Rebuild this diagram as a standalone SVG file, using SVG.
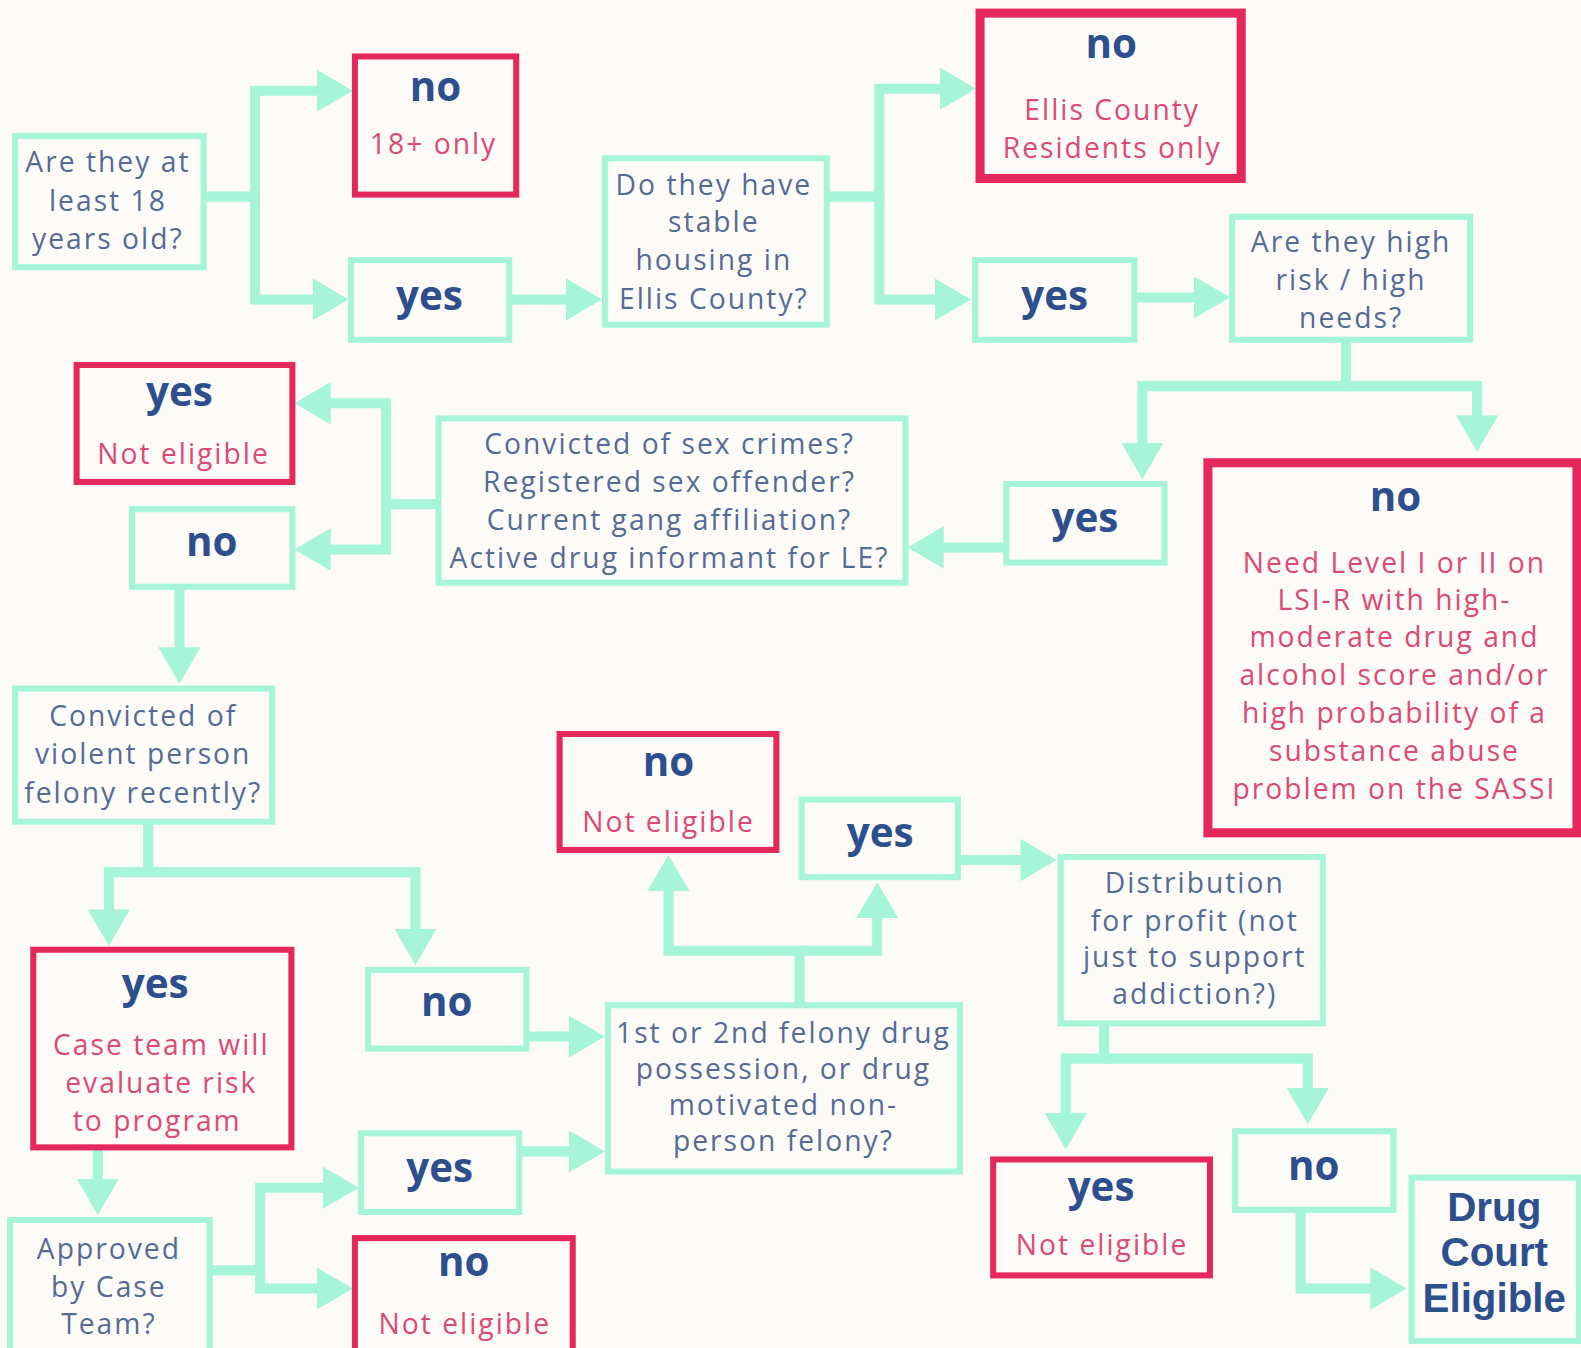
<svg xmlns="http://www.w3.org/2000/svg" width="1581" height="1348" viewBox="0 0 1581 1348">
<defs>
<style>
.bg{fill:#fdfbf8}
.m{fill:none;stroke:#a6f4da;stroke-width:6}
.r{fill:none;stroke:#e5285c;stroke-width:6}
.rt{fill:none;stroke:#e5285c;stroke-width:9}
.c{fill:none;stroke:#a6f4da;stroke-width:10;stroke-linejoin:miter}
.q{font-family:"Open Sans","Liberation Sans",sans-serif;font-size:28px;fill:#566b93;letter-spacing:2px;text-anchor:middle}
.rd{font-family:"Open Sans","Liberation Sans",sans-serif;font-size:28px;fill:#dc4a74;letter-spacing:2px;text-anchor:middle}
.b{font-family:"Open Sans","Liberation Sans",sans-serif;font-size:40px;font-weight:700;fill:#2e4f8e;text-anchor:middle}
.big{font-family:"Liberation Sans",Arial,sans-serif;font-size:40px;font-weight:700;fill:#2e4f8e;text-anchor:middle}
</style>
<marker id="ah" markerUnits="userSpaceOnUse" viewBox="0 0 36 42" markerWidth="36" markerHeight="42" refX="16" refY="21" orient="auto">
<path d="M0,0 L36,21 L0,42 Z" fill="#a6f4da"/>
</marker>
</defs>
<rect class="bg" x="0" y="0" width="1581" height="1348"/>
<g transform="scale(1.00829 1.00823)">
<g id="connectors">
<path class="c" marker-end="url(#ah)" d="M202,195 H253 V90 H330"/>
<path class="c" marker-end="url(#ah)" d="M253,195 V297 H326"/>
<path class="c" marker-end="url(#ah)" d="M505,297 H577"/>
<path class="c" marker-end="url(#ah)" d="M820,195 H872 V88 H948"/>
<path class="c" marker-end="url(#ah)" d="M872,195 V297 H943"/>
<path class="c" marker-end="url(#ah)" d="M1125,295 H1200"/>
<path class="c" marker-end="url(#ah)" d="M1335,337 V383 H1133 V455"/>
<path class="c" marker-end="url(#ah)" d="M1335,383 H1465 V428"/>
<path class="c" marker-end="url(#ah)" d="M998,543 H920"/>
<path class="c" marker-end="url(#ah)" d="M435,500 H383 V400 H312"/>
<path class="c" marker-end="url(#ah)" d="M383,500 V545 H312"/>
<path class="c" marker-end="url(#ah)" d="M178,582 V658"/>
<path class="c" marker-end="url(#ah)" d="M147,815 V865 H108 V918"/>
<path class="c" marker-end="url(#ah)" d="M147,865 H412 V937"/>
<path class="c" marker-end="url(#ah)" d="M522,1028 H580"/>
<path class="c" marker-end="url(#ah)" d="M97,1138 V1185"/>
<path class="c" marker-end="url(#ah)" d="M208,1260 H258 V1178 H336"/>
<path class="c" marker-end="url(#ah)" d="M258,1260 V1278 H330"/>
<path class="c" marker-end="url(#ah)" d="M515,1142 H580"/>
<path class="c" marker-end="url(#ah)" d="M793,997 V943 H663 V868"/>
<path class="c" marker-end="url(#ah)" d="M793,943 H870 V895"/>
<path class="c" marker-end="url(#ah)" d="M950,853 H1028"/>
<path class="c" marker-end="url(#ah)" d="M1095,1015 V1050 H1057 V1120"/>
<path class="c" marker-end="url(#ah)" d="M1095,1050 H1297 V1095"/>
<path class="c" marker-end="url(#ah)" d="M1290,1200 V1278 H1375"/>
</g>
<g id="age"><rect class="m" x="15" y="135" width="187" height="130"/>
<text class="q" x="107" y="171">Are they at</text><text class="q" x="107" y="209">least 18</text><text class="q" x="107" y="247">years old?</text></g>
<g id="no18"><rect class="r" x="352" y="56" width="160" height="137"/>
<text class="b" x="432" y="100">no</text><text class="rd" x="430" y="153">18+ only</text></g>
<g id="yes1"><rect class="m" x="348" y="258" width="157" height="79"/>
<text class="b" x="426" y="307">yes</text></g>
<g id="housing"><rect class="m" x="600" y="157" width="220" height="165"/>
<text class="q" x="708" y="193">Do they have</text><text class="q" x="708" y="230">stable</text><text class="q" x="708" y="268">housing in</text><text class="q" x="708" y="306">Ellis County?</text></g>
<g id="noEllis"><rect class="rt" x="972" y="13" width="259" height="164"/>
<text class="b" x="1102" y="58">no</text><text class="rd" x="1103" y="119">Ellis County</text><text class="rd" x="1103" y="157">Residents only</text></g>
<g id="yes2"><rect class="m" x="967" y="258" width="158" height="79"/>
<text class="b" x="1046" y="307">yes</text></g>
<g id="highrisk"><rect class="m" x="1222" y="215" width="236" height="122"/>
<text class="q" x="1340" y="250">Are they high</text><text class="q" x="1340" y="288">risk / high</text><text class="q" x="1340" y="325">needs?</text></g>
<g id="yes3"><rect class="m" x="998" y="480" width="157" height="78"/>
<text class="b" x="1076" y="528">yes</text></g>
<g id="noLSI"><rect class="rt" x="1198" y="459" width="366" height="367"/>
<text class="b" x="1384" y="507">no</text>
<text class="rd" x="1383" y="568">Need Level I or II on</text><text class="rd" x="1383" y="605">LSI-R with high-</text><text class="rd" x="1383" y="642">moderate drug and</text><text class="rd" x="1383" y="679">alcohol score and/or</text><text class="rd" x="1383" y="717">high probability of a</text><text class="rd" x="1383" y="755">substance abuse</text><text class="rd" x="1383" y="792">problem on the SASSI</text></g>
<g id="sexcrimes"><rect class="m" x="435" y="415" width="463" height="163"/>
<text class="q" x="664" y="450">Convicted of sex crimes?</text><text class="q" x="664" y="488">Registered sex offender?</text><text class="q" x="664" y="526">Current gang affiliation?</text><text class="q" x="664" y="563">Active drug informant for LE?</text></g>
<g id="yesNE1"><rect class="r" x="76" y="362" width="214" height="116"/>
<text class="b" x="178" y="403">yes</text><text class="rd" x="182" y="460">Not eligible</text></g>
<g id="no2"><rect class="m" x="131" y="505" width="159" height="77"/>
<text class="b" x="210" y="551">no</text></g>
<g id="violent"><rect class="m" x="15" y="683" width="255" height="132"/>
<text class="q" x="142" y="720">Convicted of</text><text class="q" x="142" y="758">violent person</text><text class="q" x="142" y="796">felony recently?</text></g>
<g id="yesCase"><rect class="r" x="33" y="942" width="256" height="196"/>
<text class="b" x="154" y="990">yes</text><text class="rd" x="160" y="1046">Case team will</text><text class="rd" x="160" y="1084">evaluate risk</text><text class="rd" x="156" y="1122">to program</text></g>
<g id="no3"><rect class="m" x="365" y="962" width="157" height="78"/>
<text class="b" x="443" y="1008">no</text></g>
<g id="approved"><rect class="m" x="10" y="1210" width="198" height="145"/>
<text class="q" x="108" y="1249">Approved</text><text class="q" x="108" y="1286">by Case</text><text class="q" x="108" y="1323">Team?</text></g>
<g id="yes4"><rect class="m" x="358" y="1124" width="157" height="78"/>
<text class="b" x="436" y="1172">yes</text></g>
<g id="noNE2"><rect class="r" x="352" y="1228" width="216" height="125"/>
<text class="b" x="460" y="1266">no</text><text class="rd" x="461" y="1323">Not eligible</text></g>
<g id="first"><rect class="m" x="603" y="997" width="349" height="165"/>
<text class="q" x="777" y="1034">1st or 2nd felony drug</text><text class="q" x="777" y="1070">possession, or drug</text><text class="q" x="777" y="1106">motivated non-</text><text class="q" x="777" y="1142">person felony?</text></g>
<g id="noNE3"><rect class="r" x="555" y="728" width="215" height="115"/>
<text class="b" x="663" y="770">no</text><text class="rd" x="663" y="825">Not eligible</text></g>
<g id="yes5"><rect class="m" x="795" y="793" width="155" height="77"/>
<text class="b" x="873" y="840">yes</text></g>
<g id="distribution"><rect class="m" x="1052" y="850" width="260" height="165"/>
<text class="q" x="1185" y="886">Distribution</text><text class="q" x="1185" y="923">for profit (not</text><text class="q" x="1185" y="959">just to support</text><text class="q" x="1185" y="996">addiction?)</text></g>
<g id="yesNE4"><rect class="r" x="985" y="1150" width="215" height="115"/>
<text class="b" x="1092" y="1191">yes</text><text class="rd" x="1093" y="1245">Not eligible</text></g>
<g id="no4"><rect class="m" x="1225" y="1122" width="157" height="78"/>
<text class="b" x="1303" y="1170">no</text></g>
<g id="drug"><rect class="m" x="1400" y="1168" width="166" height="162"/>
<text class="big" x="1482" y="1211">Drug</text><text class="big" x="1482" y="1256">Court</text><text class="big" x="1482" y="1301">Eligible</text></g>
</g>
</svg>
